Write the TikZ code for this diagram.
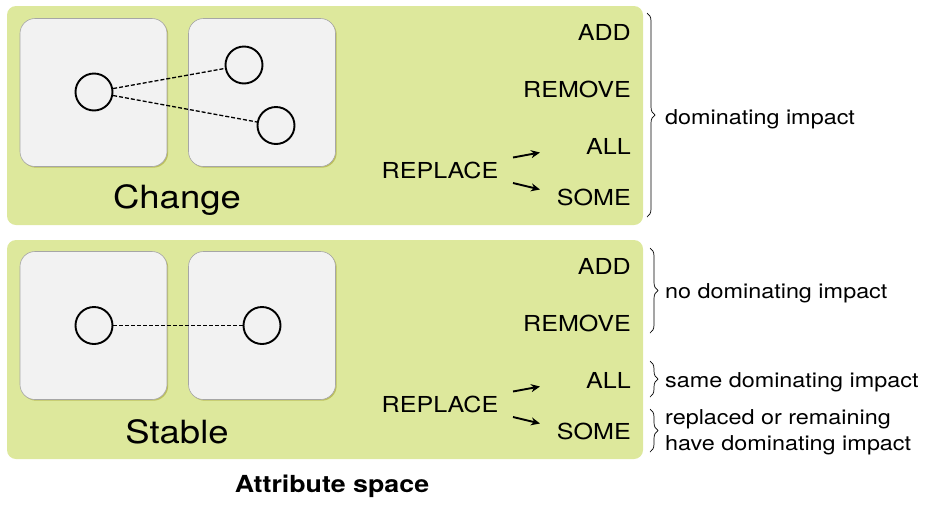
\documentclass[tikz,border=0pt]{standalone}
\usepackage{fontspec}
\setmainfont[FakeStretch=1.14]{TeX Gyre Heros}
\usepackage{xcolor}
\usepackage{tikz}
\usetikzlibrary{arrows.meta, decorations.pathreplacing, shadows}

\definecolor{panelgreen}{RGB}{221,232,156}
\definecolor{boxgray}{RGB}{242,242,242}

\begin{document}
\begin{tikzpicture}[x=1pt, y=-1pt, >={Stealth[length=9pt, width=8pt]},
    panel/.style={fill=panelgreen, draw=none, rounded corners=9pt},
    slot/.style={fill=boxgray, draw=black!35, line width=0.6pt, rounded corners=15pt, inner sep=0,
        minimum width=147pt, minimum height=148pt,
        drop shadow={shadow xshift=1.2pt, shadow yshift=-1.2pt, opacity=0.4, fill=olive}},
    dot/.style={circle, draw, line width=1.9pt, minimum size=37pt, inner sep=0},
    link/.style={dash pattern=on 4pt off 2pt, line width=1.3pt},
    op/.style={anchor=east, inner sep=0, font=\fontsize{22}{26}\selectfont},
    side/.style={anchor=base west, inner sep=0, align=left, font=\fontsize{20.5}{25.5}\selectfont},
    brace/.style={decorate, decoration={brace, amplitude=8pt}, line width=0.7pt},
    pick/.style={->, line width=1.9pt}]
    \useasboundingbox (0,0) rectangle (927,504);

    % change panel
    \fill[panel] (7,6) rectangle (643,225);
    \node[slot] (chA) at (93.5,92.5) {};
    \node[slot] (chB) at (262,92.5) {};
    \node[dot] (ca) at (94,92) {};
    \node[dot] (cb) at (244,65) {};
    \node[dot] (cc) at (276,125.5) {};
    \draw[link] (ca) -- (cb);
    \draw[link] (ca) -- (cc);
    \node[anchor=base, font=\fontsize{32}{38}\selectfont] (change) at (177,208) {Change};

    \node[op] (cadd) at (631,32) {ADD};
    \node[op] (crem) at (631,89.5) {REMOVE};
    \node[op] (call) at (631,146.5) {ALL};
    \node[op] (csome) at (631,197.5) {SOME};
    \node[op, anchor=center] (crep) at (440,170.5) {REPLACE};
    \coordinate (cr1) at (513,157.5);
    \coordinate (cr1e) at (540,152.5);
    \coordinate (cr2) at (513,183);
    \coordinate (cr2e) at (540,189.5);
    \draw[pick] (cr1) -- (cr1e);
    \draw[pick] (cr2) -- (cr2e);

    % stable panel
    \fill[panel] (7,240) rectangle (643,459);
    \node[slot] (stA) at (93.5,325.5) {};
    \node[slot] (stB) at (262,325.5) {};
    \node[dot] (sa) at (94,325.5) {};
    \node[dot] (sb) at (262,325.5) {};
    \draw[link] (sa) -- (sb);
    \node[anchor=base, font=\fontsize{32}{38}\selectfont] (stable) at (177,443) {Stable};

    \node[op] (sadd) at (631,266) {ADD};
    \node[op] (srem) at (631,323.5) {REMOVE};
    \node[op] (sall) at (631,380.5) {ALL};
    \node[op] (ssome) at (631,431.5) {SOME};
    \node[op, anchor=center] (srep) at (440,404.5) {REPLACE};
    \coordinate (sr1) at (513,391.5);
    \coordinate (sr1e) at (540,386.5);
    \coordinate (sr2) at (513,417);
    \coordinate (sr2e) at (540,423.5);
    \draw[pick] (sr1) -- (sr1e);
    \draw[pick] (sr2) -- (sr2e);

    % braces and notes
    \draw[brace] (647,13) -- (647,217);
    \node[side] (dom) at (665,124) {dominating impact};
    \draw[brace] (650,248) -- (650,333);
    \node[side] (nodom) at (665,298) {no dominating impact};
    \draw[brace] (650,361) -- (650,397);
    \node[side] (same) at (665,387) {same dominating impact};
    \draw[brace] (650,409) -- (650,452);
    \node[side] (part) at (665,450) {replaced or remaining\\have dominating impact};

    \node[anchor=base, font=\fontsize{23.5}{28}\selectfont\bfseries] (title) at (332,492) {Attribute space};
\end{tikzpicture}
\end{document}
